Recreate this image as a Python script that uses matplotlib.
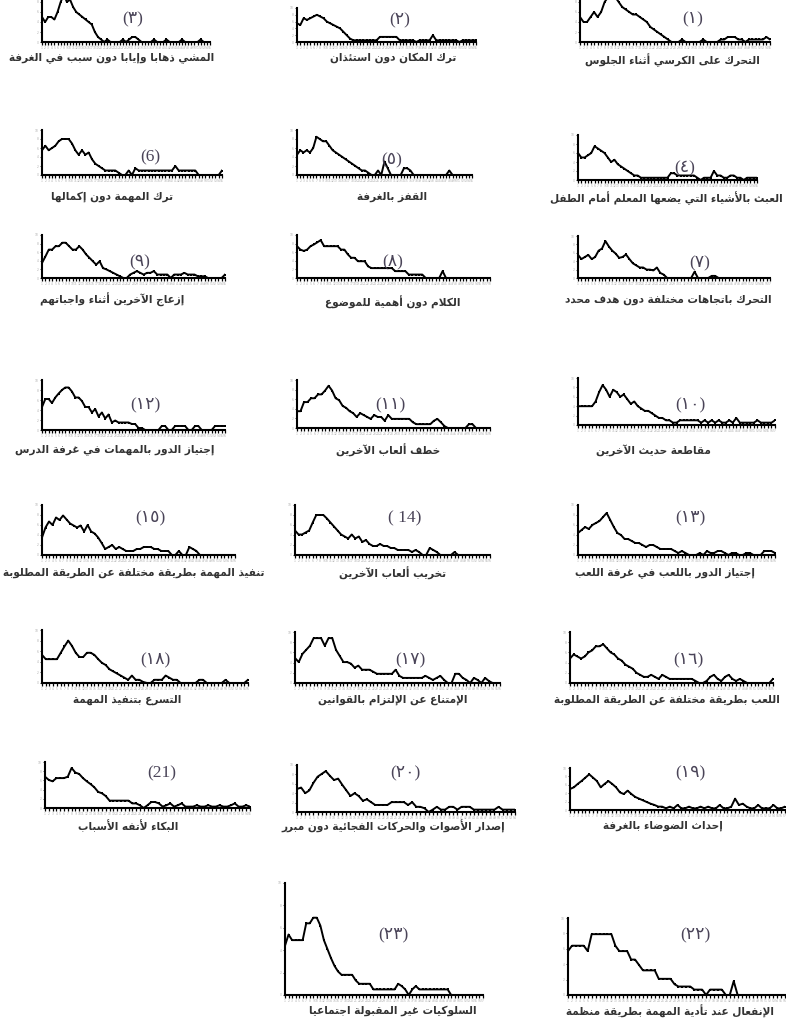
import numpy as np
import matplotlib
matplotlib.use("Agg")
import matplotlib.pyplot as plt

W, H = 786, 1027

# ---- data (0-10 scale of the axis height) ----
p1 = [5, 4, 4, 5, 6, 5, 6, 8, 9, 10, 9, 8, 7, 6.5, 6, 5.5, 5.5, 5, 4.5, 4, 3, 2.5, 2, 1.5, 1, 0.5, 0, 0, 0,
      0.5, 0, 0, 0, 0, 0, 0.5, 0, 0, 0, 0, 0.5, 0.5, 1, 1, 1, 0.5, 0.5, 0, 0.5, 0.5, 0.5, 0.5, 0.5, 1, 0.5]
p2 = [5.5, 5, 7, 6.5, 7, 7.5, 8, 7.5, 7, 6, 5.5, 5, 4.5, 4, 3, 2, 1, 0.5, 0.5, 0.5, 0.5, 0.5, 0.5, 0.5, 0.5,
      1.5, 1.5, 1.5, 1.5, 1.5, 1.5, 0.5, 0.5, 0.5, 0.5, 0.5, 0, 0.5, 0.5, 0.5, 0.5, 2, 0.5, 0.5, 0.5, 0.5,
      0.5, 0.5, 0.5, 0, 0.5, 0.5, 0.5, 0.5, 0.5]
p3 = [5, 4, 5, 5, 4.5, 6, 8, 9.5, 8, 8.5, 7, 6, 5.5, 5, 4.5, 4, 3.5, 2, 1, 0.5, 0, 0.5, 0, 0, 0, 0, 0.5, 0,
      0.5, 1, 1, 0.5, 0, 0, 0, 0, 0.5, 0, 0, 0, 0.5, 0, 0, 0, 0, 0.5, 0, 0, 0, 0, 0, 0.5, 0, 0, 0]
p4 = [6, 5, 5, 5.5, 6, 7.5, 7, 6.5, 6, 5, 4, 4.5, 3.5, 3, 2.5, 2, 1.5, 1, 1, 0.5, 0.5, 0.5, 0.5, 0.5, 0.5,
      0.5, 0.5, 0.5, 1.5, 1.5, 1, 1, 1, 1, 1, 1, 0.5, 0, 0.5, 0.5, 0.5, 2, 1, 1, 0.5, 0.5, 1, 1, 0.5, 0.5,
      0, 0.5, 0.5, 0.5, 0.5]
p5 = [4.5, 5.5, 5, 5.5, 5, 6, 8.5, 8, 7.5, 7.5, 6.5, 5.5, 5, 4.5, 4, 3.5, 3, 2.5, 2, 1.5, 1, 1, 0.5, 0, 0,
      1, 0, 3, 1.5, 0, 0, 0, 0, 1.5, 1.5, 1, 0, 0, 0, 0, 0, 0, 0, 0, 0, 0, 0, 1, 0, 0, 0, 0, 0, 0, 0]
p6 = [5.5, 6.5, 5.5, 6, 6.5, 7.5, 8, 8, 8, 7, 5.5, 4.5, 5.5, 4.5, 5, 3.5, 2.5, 2, 1.5, 1, 1, 1, 1, 0.5, 0,
      0, 1, 0, 1.5, 1, 1, 1, 1, 1, 1, 1, 1, 1, 1, 1, 2, 1, 1, 1, 1, 1, 1, 0, 0, 0, 0, 0, 0, 0, 1]
p7 = [5.5, 4.5, 5, 5.5, 4.5, 5, 6.5, 7, 8.8, 7.5, 6.5, 5.8, 4.8, 5, 5.6, 4.5, 3.5, 3, 2.5, 2.5, 2, 2, 1.8,
      2.5, 1.2, 0.8, 0, 0, 0, 0, 0, 0, 0, 0, 1.5, 0, 0, 0, 0, 0.5, 0.5, 0, 0, 0, 0, 0, 0, 0, 0, 0, 0, 0, 0,
      0, 0, 0, 0]
p8 = [7.4, 6.6, 6.3, 6.6, 7.4, 7.8, 8.3, 8.8, 7.4, 7.4, 7.4, 7.4, 7.4, 6.6, 6.6, 5.5, 4.7, 4.7, 3.9, 3.9,
      3.9, 2.7, 2.3, 2.3, 2.3, 2.3, 2.3, 2.3, 2.3, 1.6, 1.6, 1.6, 1.6, 0.8, 0.8, 0.8, 0.8, 0.8, 0, 0, 0, 0,
      0, 1.6, 0, 0, 0, 0, 0, 0, 0, 0, 0, 0, 0, 0, 0, 0]
p9 = [3.5, 5, 6.6, 6.6, 7.4, 7.4, 8.2, 8.2, 7.4, 6.6, 6.6, 7.4, 6.6, 5.5, 4.7, 3.9, 3.1, 3.9, 2.3, 2, 1.6,
      1.2, 0.8, 0.4, 0, 0, 0.8, 1.2, 1.6, 1.2, 0.8, 1.2, 1.2, 1.6, 0.8, 0.8, 0.8, 0.8, 0, 0.8, 0.8, 0.8, 1.2,
      0.8, 0.8, 0.8, 0.4, 0.4, 0.4, 0, 0, 0, 0, 0, 0.8]
p10 = [4, 4, 4, 4, 4, 5, 7, 8.5, 7.5, 6, 7.5, 7, 6, 6.5, 5.5, 4.5, 5, 4, 3.5, 3, 3, 2.5, 2, 1.5, 1.5, 1, 1,
       0.5, 0.5, 1, 1, 1, 1, 1, 1, 0.5, 1, 0.5, 1, 0.5, 1, 0.5, 0.5, 1, 0.5, 1.5, 0.5, 0.5, 0.5, 0.5, 0.5,
       1, 0.5, 0.5, 0.5, 0.5, 1]
p11 = [3.5, 3.5, 5.4, 5.4, 6.2, 6.2, 7, 7, 7.8, 8.8, 7.8, 6.2, 5.8, 4.6, 4.2, 3.5, 3.1, 2.3, 3.1, 2.7, 2.3,
       1.9, 2.7, 2.3, 2.3, 1.5, 2.7, 1.9, 1.9, 1.9, 1.9, 1.9, 1.9, 1.2, 0.8, 0.8, 0.8, 0.8, 0.8, 1.5, 1.9,
       1.2, 0.4, 0, 0, 0, 0, 0, 0, 0.8, 0.8, 0, 0, 0, 0, 0]
p12 = [4.6, 6.2, 6.2, 5.4, 6.5, 7.3, 8, 8.5, 8.5, 7.7, 6.5, 6.5, 5.8, 4.6, 4.6, 3.5, 4.2, 2.7, 3.5, 2.3, 3.1,
       1.5, 1.9, 1.5, 1.5, 1.5, 1.5, 1.2, 1.2, 0.4, 0.4, 0, 0, 0, 0, 0, 0.8, 0.8, 0, 0, 0.8, 0.8, 0.8, 0.8, 0,
       0, 0.8, 0.8, 0, 0, 0, 0, 0.8, 0.8, 0.8, 0.8]
p13 = [4.4, 5, 5.6, 5.2, 6, 6.4, 6.8, 7.6, 8.4, 7, 5.6, 4.4, 4, 3.2, 3.2, 2.8, 2.4, 2.4, 2, 1.6, 2, 2, 1.6,
       1.2, 1.2, 1.2, 1.2, 0.8, 0.4, 0.8, 0.4, 0, 0, 0, 0.4, 0, 0.8, 0.4, 0.4, 0.8, 0.8, 0.4, 0, 0.4, 0.4, 0,
       0, 0.4, 0.4, 0, 0, 0, 0.8, 0.8, 0.8, 0.4]
p14 = [4.9, 4.1, 4.1, 4.5, 4.9, 6.5, 8, 8, 8, 7.3, 6.5, 5.7, 4.9, 4.1, 3.7, 3.3, 4.1, 3.3, 3.7, 2.6, 3, 2.2,
       1.8, 1.8, 2.2, 1.8, 1.8, 1.4, 1.4, 1, 1, 1, 1, 0.6, 1, 0.6, 0, 0, 1.4, 1, 0.6, 0, 0, 0, 0, 0.6, 0, 0,
       0, 0, 0, 0, 0, 0, 0, 0]
p15 = [3.5, 5.5, 6.7, 6, 7.5, 7, 7.9, 7.1, 6.3, 5.9, 5.5, 5.9, 4.7, 6, 4.7, 4.3, 3.5, 2.4, 1.2, 1.6, 2, 1.2,
       1.6, 1.2, 0.8, 0.8, 0.8, 1.2, 1.2, 1.6, 1.6, 1.6, 1.2, 1.2, 0.8, 0.8, 0.8, 0, 0, 0.8, 0, 0, 1.6, 1.2,
       0.8, 0, 0, 0, 0, 0, 0, 0, 0, 0, 0, 0]
p16 = [4.8, 5.6, 5.2, 4.8, 5.2, 6, 6.4, 7.2, 7.2, 7.6, 6.8, 6, 5.6, 4.8, 4.4, 3.6, 3.2, 2.8, 2, 1.6, 1.2,
       1.2, 1.6, 1.2, 0.8, 1.6, 1.2, 0.8, 0.8, 0.8, 0.8, 0.8, 0.8, 0.8, 0.4, 0, 0, 0.4, 1.2, 1.6, 0.8, 0.4,
       1.2, 1.6, 0.8, 0.4, 0.8, 0.4, 0, 0, 0, 0, 0, 0, 0, 0.8]
p17 = [4.9, 4.1, 5.7, 6.5, 7.3, 8.8, 8.8, 8.8, 7.3, 8.8, 8.8, 6.5, 5.3, 4.1, 4.1, 3.8, 3, 3.4, 2.6, 2.6, 2.6,
       2.2, 1.8, 1.8, 1.8, 1.8, 1.8, 2.6, 1.4, 1, 1, 1, 1, 1, 1, 1.4, 1, 0.6, 1, 1.4, 0.6, 0, 0, 1.8, 1.8, 1,
       0.6, 0, 1, 0.6, 0, 1, 0.4, 0, 0, 0]
p18 = [5.3, 4.5, 4.5, 4.5, 4.5, 5.7, 6.9, 8, 7, 5.7, 4.9, 4.9, 5.7, 5.7, 5.3, 4.5, 3.8, 3.4, 2.6, 2.2, 1.8,
       1.4, 1, 0.6, 1.4, 0.6, 0.6, 0.2, 0, 0, 0.6, 0.6, 0.6, 1.4, 1, 0.6, 0.6, 0, 0, 0, 0, 0, 0.6, 0.6, 0, 0,
       0, 0, 0, 0.6, 0, 0, 0, 0, 0, 0.6]
p19 = [5, 5.4, 6.2, 6.9, 7.7, 8.5, 7.7, 6.9, 5.4, 6.2, 6.9, 6.2, 5.4, 4.2, 3.8, 4.6, 3.8, 3.1, 2.7, 2.3, 1.9,
       1.5, 1.2, 0.8, 0.8, 0.4, 0.8, 0.4, 1.2, 0.4, 0.4, 0.8, 0.4, 0.4, 0.8, 0.4, 0.8, 0.4, 0.4, 1.2, 0.4,
       0.4, 0.8, 2.7, 1.2, 1.5, 0.8, 0.4, 0.4, 1.2, 0.4, 0.4, 0.4, 1.2, 0.4, 0.4, 0.8]
p20 = [4.9, 5.2, 4, 4.6, 6.2, 7.5, 8.1, 8.7, 7.7, 6.8, 7.1, 5.8, 4.6, 3.4, 4, 3.4, 2.4, 2.7, 2.1, 1.5, 1.5,
       1.5, 1.5, 2.1, 2.1, 2.1, 2.1, 1.5, 2.1, 1.1, 1.1, 0.8, 0, 0.5, 1.1, 0.5, 0.5, 1.1, 1.1, 0.5, 1.1, 1.1,
       1.1, 0.5, 0.5, 0.5, 0.5, 0.5, 0.5, 1.1, 0.5, 0.5, 0.5, 0.5]
p21 = [6.8, 6.1, 5.8, 6.5, 6.5, 6.5, 6.8, 8.7, 7.7, 7.4, 6.5, 5.8, 5.2, 4.5, 3.5, 3.2, 2.6, 1.6, 1.6, 1.6,
       1.6, 1.6, 1.6, 1, 1, 0.6, 0, 0.6, 1.3, 1.3, 1, 0.3, 0.6, 1, 0.3, 0.6, 1, 0.3, 0.3, 0.3, 0.6, 0.3, 0.3,
       0.6, 0.3, 0.3, 0.6, 0.3, 0.3, 0.6, 1, 0.3, 0.3, 0.6, 0.3]
p22 = [5.7, 6.4, 6.4, 6.4, 6.4, 5.7, 7.9, 7.9, 7.9, 7.9, 7.9, 7.9, 6.4, 5.7, 5.7, 5.7, 4.6, 4.6, 3.9, 3.2,
       3.2, 3.2, 3.2, 2.1, 2.1, 2.1, 2.1, 1.4, 1.1, 1.1, 1.1, 1.1, 0.7, 0.7, 0.7, 0, 0.7, 0.7, 0.7, 0.7, 0, 0,
       1.8, 0, 0, 0, 0, 0, 0, 0, 0, 0, 0, 0, 0, 0]
p23 = [4.4, 5.4, 4.9, 4.9, 4.9, 4.9, 6.4, 6.4, 6.9, 6.9, 6.2, 4.9, 4.1, 3.3, 2.6, 2.1, 1.8, 1.8, 1.8, 1.8,
       1.3, 1, 1, 1, 1, 0.5, 0.5, 0.5, 0.5, 0.5, 0.5, 0.5, 1, 0.8, 0.5, 0, 0.5, 0.8, 0.5, 0.5, 0.5, 0.5, 0.5,
       0.5, 0.5, 0.5, 0.5, 0, 0, 0, 0, 0, 0, 0, 0, 0, 0]
series = [p1, p2, p3, p4, p5, p6, p7, p8, p9, p10, p11, p12, p13, p14, p15, p16, p17, p18, p19, p20,
          p21, p22, p23]

labels = ["(١)", "(٢)", "(٣)", "(٤)", "(٥)", "(6)", "(٧)", "(٨)", "(٩)", "(١٠)", "(١١)", "(١٢)",
          "(١٣)", "( 14)", "(١٥)", "(١٦)", "(١٧)", "(١٨)", "(١٩)", "(٢٠)", "(21)", "(٢٢)", "(٢٣)"]

captions = [
    "التحرك على الكرسي أثناء الجلوس",
    "ترك المكان دون استئذان",
    "المشي ذهابا وإيابا دون سبب في الغرفة",
    "العبث بالأشياء التي يضعها المعلم أمام الطفل",
    "القفز بالغرفة",
    "ترك المهمة دون إكمالها",
    "التحرك باتجاهات مختلفة دون هدف محدد",
    "الكلام دون أهمية للموضوع",
    "إزعاج الآخرين أثناء واجباتهم",
    "مقاطعة حديث الآخرين",
    "خطف ألعاب الآخرين",
    "إجتياز الدور بالمهمات في غرفة الدرس",
    "إجتياز الدور باللعب في غرفة اللعب",
    "تخريب ألعاب الآخرين",
    "تنفيذ المهمة بطريقة مختلفة عن الطريقة المطلوبة",
    "اللعب بطريقة مختلفة عن الطريقة المطلوبة",
    "الإمتناع عن الإلتزام بالقوانين",
    "التسرع بتنفيذ المهمة",
    "إحداث الضوضاء بالغرفة",
    "إصدار الأصوات والحركات الفجائية دون مبرر",
    "البكاء لأتفه الأسباب",
    "الإنفعال عند تأدية المهمة بطريقة منظمة",
    "السلوكيات غير المقبولة اجتماعيا",
]

# layout in pixels: axes (left, top, right, baseline), label (x, y), caption (x, y)
boxes = [
    (580, -8, 770, 42), (297, 8, 476, 42), (42, -8, 210, 42),
    (578, 135, 757, 180), (297, 130, 472, 175), (42, 130, 222, 175),
    (578, 236, 770, 278), (297, 235, 490, 278), (42, 235, 225, 278),
    (578, 378, 775, 425), (297, 380, 490, 428), (42, 380, 225, 430),
    (578, 505, 775, 555), (295, 505, 490, 555), (42, 505, 235, 555),
    (570, 632, 773, 683), (295, 632, 500, 683), (42, 630, 248, 683),
    (570, 768, 785, 810), (297, 765, 515, 812), (45, 762, 250, 808),
    (568, 918, 785, 995), (285, 883, 483, 995),
]
label_xy = [
    (693, 19), (400, 20), (133, 19),
    (685, 168), (392, 160), (150, 157),
    (700, 263), (393, 262), (140, 262),
    (690, 405), (390, 405), (145, 405),
    (690, 518), (405, 518), (150, 518),
    (688, 660), (410, 660), (155, 660),
    (690, 773), (405, 773), (162, 773),
    (695, 935), (393, 935),
]
caption_xy = [
    (672, 60), (393, 58), (112, 58),
    (666, 198), (392, 197), (112, 197),
    (668, 300), (393, 302), (112, 300),
    (653, 450), (388, 450), (115, 450),
    (665, 573), (393, 573), (134, 573),
    (667, 700), (393, 700), (127, 700),
    (663, 826), (393, 826), (128, 826),
    (670, 1011), (393, 1011),
]

# ---- minimal Arabic shaping (matplotlib has no bidi/shaping) ----
DUAL = {'ئ': 0xFE89, 'ب': 0xFE8F, 'ت': 0xFE95, 'ث': 0xFE99, 'ج': 0xFE9D, 'ح': 0xFEA1, 'خ': 0xFEA5,
        'س': 0xFEB1, 'ش': 0xFEB5, 'ص': 0xFEB9, 'ض': 0xFEBD, 'ط': 0xFEC1, 'ظ': 0xFEC5, 'ع': 0xFEC9,
        'غ': 0xFECD, 'ف': 0xFED1, 'ق': 0xFED5, 'ك': 0xFED9, 'ل': 0xFEDD, 'م': 0xFEE1, 'ن': 0xFEE5,
        'ه': 0xFEE9, 'ي': 0xFEF1}
RIGHT = {'آ': 0xFE81, 'أ': 0xFE83, 'ؤ': 0xFE85, 'إ': 0xFE87, 'ا': 0xFE8D, 'ة': 0xFE93, 'د': 0xFEA9,
         'ذ': 0xFEAB, 'ر': 0xFEAD, 'ز': 0xFEAF, 'و': 0xFEED, 'ى': 0xFEEF}
LAMALEF = {'آ': 0xFEF5, 'أ': 0xFEF7, 'إ': 0xFEF9, 'ا': 0xFEFB}


def shape(s):
    out = []
    i = 0
    n = len(s)
    while i < n:
        c = s[i]
        pj = i > 0 and s[i - 1] in DUAL
        if c == 'ل' and i + 1 < n and s[i + 1] in LAMALEF:
            out.append(chr(LAMALEF[s[i + 1]] + (1 if pj else 0)))
            i += 2
            continue
        if c in DUAL:
            nj = i + 1 < n and (s[i + 1] in DUAL or s[i + 1] in RIGHT)
            off = 3 if (pj and nj) else 1 if pj else 2 if nj else 0
            out.append(chr(DUAL[c] + off))
        elif c in RIGHT:
            out.append(chr(RIGHT[c] + (1 if pj else 0)))
        elif c == 'ء':
            out.append(chr(0xFE80))
        else:
            out.append(c)
        i += 1
    return ''.join(out)[::-1]


fig = plt.figure(figsize=(W / 100, H / 100), dpi=100)
fig.patch.set_facecolor('white')

for k, vals in enumerate(series):
    l, t, r, b = boxes[k]
    ax = fig.add_axes([l / W, 1 - b / H, (r - l) / W, (b - t) / H])
    x = np.arange(len(vals))
    ax.plot(x, vals, color='black', lw=1.4, marker='s', ms=1.6, mew=0)
    ax.set_xlim(0, len(vals) - 1)
    ax.set_ylim(0, 10)
    for s in ['top', 'right']:
        ax.spines[s].set_visible(False)
    for s in ['left', 'bottom']:
        ax.spines[s].set_linewidth(1.5)
    ax.set_xticks(x)
    ax.set_xticklabels([str(i + 1) for i in x], fontsize=2.2, color='#b0b0b0')
    yt = [0, 2, 4, 6, 8] if t < 0 else [0, 2, 4, 6, 8, 10]
    ax.set_yticks(yt)
    ax.set_yticklabels([str(v) for v in yt], fontsize=2.2, color='#b0b0b0')
    ax.tick_params(axis='x', length=2, width=0.9, pad=1)
    ax.tick_params(axis='y', length=1.5, width=0.5, pad=1)
    ax.patch.set_alpha(0)

    lx, ly = label_xy[k]
    fig.text(lx / W, 1 - ly / H, labels[k], ha='center', va='center', fontsize=12.5,
             color='#4a4458', family=['Liberation Serif', 'DejaVu Sans'])
    cx, cy = caption_xy[k]
    fig.text(cx / W, 1 - cy / H, shape(captions[k]), ha='center', va='center', fontsize=7.6,
             fontweight='bold', color='#333333', family=['DejaVu Sans'])

fig.savefig('out.png', dpi=100, facecolor='white')
